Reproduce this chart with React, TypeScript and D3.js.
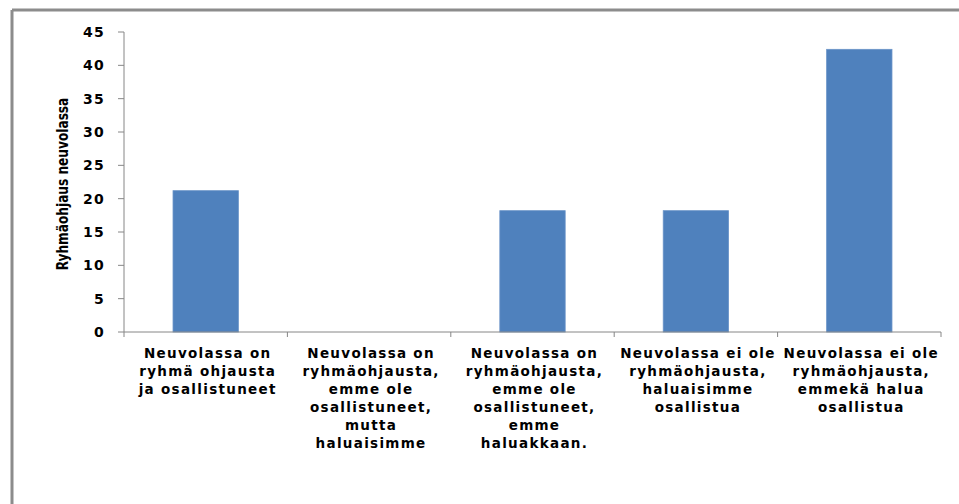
import React from "react";
import * as d3 from "d3";

const categories: string[][] = [
  ["Neuvolassa on", "ryhmä ohjausta", "ja osallistuneet"],
  ["Neuvolassa on", "ryhmäohjausta,", "emme ole", "osallistuneet,", "mutta", "haluaisimme"],
  ["Neuvolassa on", "ryhmäohjausta,", "emme ole", "osallistuneet,", "emme", "haluakkaan."],
  ["Neuvolassa ei ole", "ryhmäohjausta,", "haluaisimme", "osallistua"],
  ["Neuvolassa ei ole", "ryhmäohjausta,", "emmekä halua", "osallistua"],
];
const values: number[] = [21.2, 0, 18.2, 18.2, 42.4];
const yTicks: number[] = [0, 5, 10, 15, 20, 25, 30, 35, 40, 45];
const yTitle = "Ryhmäohjaus neuvolassa";

const W = 959;
const H = 504;
const plot = { left: 124, right: 941, top: 32, bottom: 332 };

export default function App() {
  const idx = categories.map((_, i) => i);
  const x = d3.scaleBand<number>().domain(idx).range([plot.left, plot.right]).paddingInner(0.6).paddingOuter(0.3);
  const xStep = d3.scaleBand<number>().domain(idx).range([plot.left, plot.right]);
  const y = d3.scaleLinear().domain([0, 45]).range([plot.bottom, plot.top]);
  const axisColor = "#868686";
  const boundaries = [...idx.map((i) => xStep(i)!), plot.right];

  return (
    <svg width={W} height={H} style={{ position: "absolute", left: 0, top: 0, background: "#fff" }}>
      {/* outer frame */}
      <line x1={12} y1={10} x2={W} y2={10} stroke="#8c8c8c" strokeWidth={3} />
      <line x1={12} y1={10} x2={12} y2={H} stroke="#8c8c8c" strokeWidth={3} />

      {/* bars */}
      {values.map((v, i) =>
        v > 0 ? (
          <rect
            key={i}
            x={x(i)!}
            y={y(v)}
            width={x.bandwidth()}
            height={y(0) - y(v)}
            fill="#4F81BD"
            stroke="#6A94C8"
            strokeWidth={0.8}
          />
        ) : null
      )}

      {/* y axis */}
      <line x1={plot.left} y1={plot.top} x2={plot.left} y2={plot.bottom} stroke={axisColor} strokeWidth={1} />
      {yTicks.map((t) => (
        <g key={t}>
          <line x1={plot.left - 6} x2={plot.left} y1={y(t)} y2={y(t)} stroke={axisColor} />
          <text
            x={105}
            y={y(t)}
            dy="0.35em"
            textAnchor="end"
            fontFamily="DejaVu Sans, sans-serif"
            fontWeight="bold"
            fontSize={14}
            letterSpacing={1.2}
            fill="#000"
          >
            {t}
          </text>
        </g>
      ))}

      {/* x axis */}
      <line x1={plot.left} y1={plot.bottom} x2={plot.right} y2={plot.bottom} stroke={axisColor} strokeWidth={1} />
      {boundaries.map((b, i) => (
        <line key={i} x1={b} x2={b} y1={plot.bottom} y2={plot.bottom + 5} stroke={axisColor} />
      ))}

      {/* category labels */}
      {categories.map((lines, i) => (
        <text
          key={i}
          x={xStep(i)! + xStep.bandwidth() / 2 + 2}
          y={358}
          textAnchor="middle"
          fontFamily="DejaVu Sans, sans-serif"
          fontWeight="bold"
          fontSize={13.5}
          letterSpacing={1.3}
          fill="#000"
        >
          {lines.map((l, j) => (
            <tspan key={j} x={xStep(i)! + xStep.bandwidth() / 2 + 2} dy={j === 0 ? 0 : 18}>
              {l}
            </tspan>
          ))}
        </text>
      ))}

      {/* y axis title, horizontally condensed */}
      <text
        transform={`translate(68, ${(plot.top + plot.bottom) / 2 + 2}) rotate(-90) scale(0.76, 1)`}
        textAnchor="middle"
        fontFamily="DejaVu Sans, sans-serif"
        fontWeight="bold"
        fontSize={16}
        fill="#000"
      >
        {yTitle}
      </text>
    </svg>
  );
}
